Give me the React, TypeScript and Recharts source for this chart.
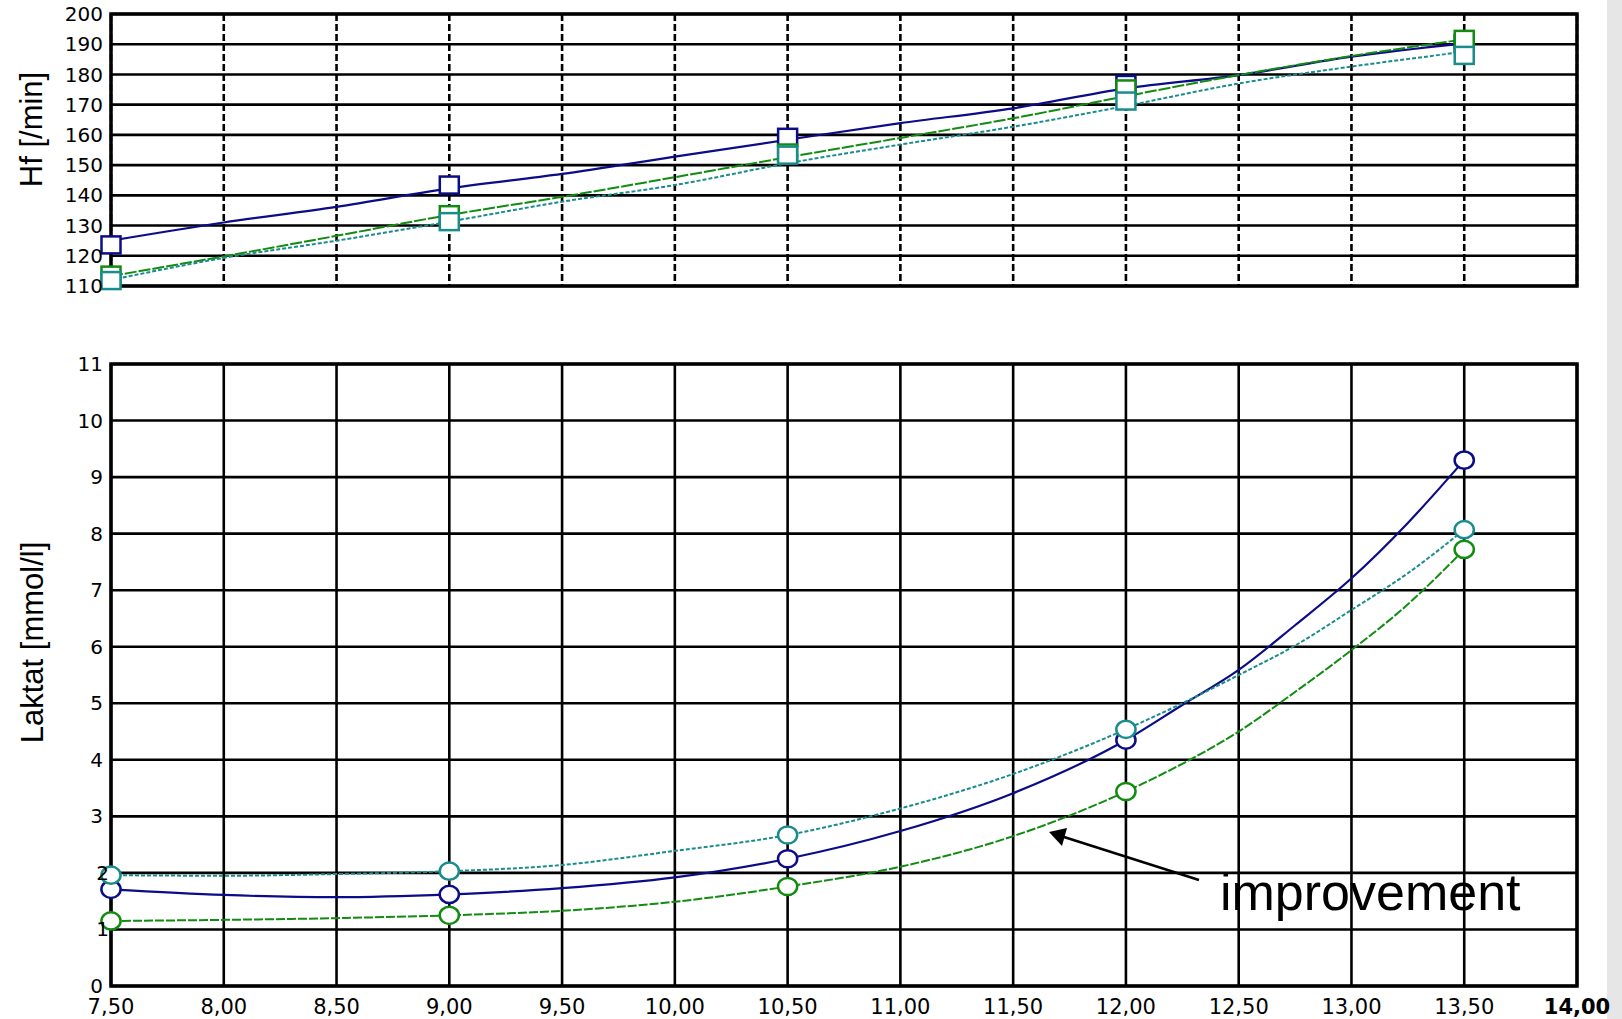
import React from "react";
import { LineChart, Line, XAxis, YAxis, CartesianGrid, ReferenceArea } from "recharts";

// running speed (km/h) axis
const speedTicks = [7.5, 8, 8.5, 9, 9.5, 10, 10.5, 11, 11.5, 12, 12.5, 13, 13.5, 14];
const hfTicks = [110, 120, 130, 140, 150, 160, 170, 180, 190, 200];
const lacTicks = [0, 1, 2, 3, 4, 5, 6, 7, 8, 9, 10, 11];

// measured stages (markers)
const stageSpeeds = [7.5, 9, 10.5, 12, 13.5];
const hfMarksBlue = [123.6, 143.4, 159.2, 176.7, 190.3];
const hfMarksGreen = [113.6, 133.6, 154.0, 175.2, 191.6];
const hfMarksTeal = [111.8, 131.3, 153.3, 171.2, 186.3];

const lacMarksBlue = [1.71, 1.62, 2.25, 4.35, 9.3];
const lacMarksGreen = [1.15, 1.25, 1.76, 3.44, 7.72];
const lacMarksTeal = [1.96, 2.03, 2.67, 4.54, 8.07];

// fitted curves
const hfCurveSpeeds = [7.5, 8, 8.5, 9, 9.5, 10, 10.5, 11, 11.5, 12, 12.5, 13, 13.5];
const hfCurveBlue = [125.0, 131.0, 136.2, 142.3, 147.1, 152.8, 158.4, 163.9, 168.8, 175.4, 179.8, 185.9, 190.3];
const hfCurveGreen = [113.3, 119.8, 126.6, 133.5, 139.5, 146.0, 152.6, 159.0, 165.5, 172.8, 179.8, 186.1, 191.6];
const hfCurveTeal = [112.0, 119.3, 125.0, 131.3, 137.9, 143.4, 150.6, 156.8, 162.7, 169.6, 177.0, 182.6, 187.5];

const lacCurveSpeeds = [7.5, 8, 8.5, 9, 9.5, 10, 10.5, 11, 11.5, 12, 12.25, 12.5, 12.75, 13, 13.25, 13.5];
const lacCurveBlue = [1.71, 1.61, 1.57, 1.62, 1.73, 1.92, 2.25, 2.74, 3.41, 4.35, 4.97, 5.59, 6.38, 7.21, 8.19, 9.3];
const lacCurveGreen = [1.15, 1.17, 1.2, 1.25, 1.33, 1.49, 1.76, 2.11, 2.65, 3.44, 3.93, 4.5, 5.2, 5.94, 6.75, 7.72];
const lacCurveTeal = [1.96, 1.95, 1.98, 2.03, 2.14, 2.39, 2.67, 3.14, 3.75, 4.54, 5.0, 5.5, 6.02, 6.65, 7.3, 8.07];

const NAVY = "#0c0c88";
const GREEN = "#118c11";
const TEAL = "#1a8c8c";
const GRID_W = 2.6;

const toPoints = (xs: number[], ys: number[]) => xs.map((x, i) => ({ x, y: ys[i] }));
const fmtSpeed = (v: number) => v.toFixed(2).replace(".", ",");

const SquareDot = (props: any) => {
    const { cx, cy, stroke, index } = props;
    if (cx == null || cy == null) return null;
    return (
        <rect key={`sq-${index}`} x={cx - 9.5} y={cy - 8.5} width={19} height={17} fill="#fff" stroke={stroke} strokeWidth={2.5} />
    );
};

const CircleDot = (props: any) => {
    const { cx, cy, stroke, index } = props;
    if (cx == null || cy == null) return null;
    return <ellipse key={`ci-${index}`} cx={cx} cy={cy} rx={9.6} ry={8.6} fill="#fff" stroke={stroke} strokeWidth={2.5} />;
};

const SpeedTick = (props: any) => {
    const { x, y, payload } = props;
    const bold = payload.value === 14;
    return (
        <text x={x} y={y} dy={20} textAnchor="middle" fontSize={21} fontFamily="DejaVu Sans" fontWeight={bold ? 700 : 400} fill="#000">
            {fmtSpeed(payload.value)}
        </text>
    );
};

const EmptyTick = () => <g />;

const LacTick = (props: any) => {
    const { x, y, payload } = props;
    // the 1 and 2 labels sit tighter against the axis in the original
    const shift = payload.value === 1 || payload.value === 2 ? 6 : 0;
    return (
        <text x={x + shift} y={y} dy={7} textAnchor="end" fontSize={20} fontFamily="DejaVu Sans" fill="#000">
            {payload.value}
        </text>
    );
};

const yTickStyle = { fontSize: 20, fill: "#000", fontFamily: "DejaVu Sans" };

function HfChart() {
    return (
        <LineChart width={1622} height={300} margin={{ top: 14, right: 45, bottom: 14, left: 41 }}>
            <CartesianGrid vertical={false} stroke="#000" strokeWidth={GRID_W} />
            <CartesianGrid horizontal={false} stroke="#000" strokeWidth={GRID_W} strokeDasharray="7 3" />
            <XAxis
                type="number"
                dataKey="x"
                domain={[7.5, 14]}
                ticks={speedTicks}
                interval={0}
                height={0}
                tick={<EmptyTick />}
                axisLine={false}
                tickLine={false}
            />
            <YAxis
                type="number"
                domain={[110, 200]}
                ticks={hfTicks}
                interval={0}
                width={70}
                axisLine={false}
                tickLine={false}
                tick={yTickStyle}
            />
            <ReferenceArea x1={7.5} x2={14} y1={110} y2={200} fill="none" fillOpacity={0} stroke="#000" strokeWidth={3.5} />
            <Line data={toPoints(hfCurveSpeeds, hfCurveBlue)} dataKey="y" type="monotone" stroke={NAVY} strokeWidth={2.2} dot={false} activeDot={false} isAnimationActive={false} />
            <Line data={toPoints(hfCurveSpeeds, hfCurveGreen)} dataKey="y" type="monotone" stroke={GREEN} strokeWidth={2} strokeDasharray="12 2" dot={false} activeDot={false} isAnimationActive={false} />
            <Line data={toPoints(hfCurveSpeeds, hfCurveTeal)} dataKey="y" type="monotone" stroke={TEAL} strokeWidth={2} strokeDasharray="4 2" dot={false} activeDot={false} isAnimationActive={false} />
            <Line data={toPoints(stageSpeeds, hfMarksBlue)} dataKey="y" stroke={NAVY} strokeWidth={0} strokeOpacity={0} dot={<SquareDot stroke={NAVY} />} activeDot={false} isAnimationActive={false} />
            <Line data={toPoints(stageSpeeds, hfMarksGreen)} dataKey="y" stroke={GREEN} strokeWidth={0} strokeOpacity={0} dot={<SquareDot stroke={GREEN} />} activeDot={false} isAnimationActive={false} />
            <Line data={toPoints(stageSpeeds, hfMarksTeal)} dataKey="y" stroke={TEAL} strokeWidth={0} strokeOpacity={0} dot={<SquareDot stroke={TEAL} />} activeDot={false} isAnimationActive={false} />
        </LineChart>
    );
}

function LactateChart() {
    return (
        <LineChart width={1622} height={689} margin={{ top: 34, right: 45, bottom: 3, left: 41 }}>
            <CartesianGrid stroke="#000" strokeWidth={GRID_W} />
            <XAxis
                type="number"
                dataKey="x"
                domain={[7.5, 14]}
                ticks={speedTicks}
                interval={0}
                height={30}
                axisLine={false}
                tickLine={false}
                tick={<SpeedTick />}
            />
            <YAxis
                type="number"
                domain={[0, 11]}
                ticks={lacTicks}
                interval={0}
                width={70}
                axisLine={false}
                tickLine={false}
                tick={<LacTick />}
            />
            <ReferenceArea x1={7.5} x2={14} y1={0} y2={11} fill="none" fillOpacity={0} stroke="#000" strokeWidth={3.5} />
            <Line data={toPoints(lacCurveSpeeds, lacCurveBlue)} dataKey="y" type="monotone" stroke={NAVY} strokeWidth={2.2} dot={false} activeDot={false} isAnimationActive={false} />
            <Line data={toPoints(lacCurveSpeeds, lacCurveGreen)} dataKey="y" type="monotone" stroke={GREEN} strokeWidth={2} strokeDasharray="9 2" dot={false} activeDot={false} isAnimationActive={false} />
            <Line data={toPoints(lacCurveSpeeds, lacCurveTeal)} dataKey="y" type="monotone" stroke={TEAL} strokeWidth={2} strokeDasharray="4 2" dot={false} activeDot={false} isAnimationActive={false} />
            <Line data={toPoints(stageSpeeds, lacMarksBlue)} dataKey="y" stroke={NAVY} strokeWidth={0} strokeOpacity={0} dot={<CircleDot stroke={NAVY} />} activeDot={false} isAnimationActive={false} />
            <Line data={toPoints(stageSpeeds, lacMarksGreen)} dataKey="y" stroke={GREEN} strokeWidth={0} strokeOpacity={0} dot={<CircleDot stroke={GREEN} />} activeDot={false} isAnimationActive={false} />
            <Line data={toPoints(stageSpeeds, lacMarksTeal)} dataKey="y" stroke={TEAL} strokeWidth={0} strokeOpacity={0} dot={<CircleDot stroke={TEAL} />} activeDot={false} isAnimationActive={false} />
        </LineChart>
    );
}

export default function App() {
    return (
        <div style={{ position: "absolute", left: 0, top: 0, width: 1622, height: 1019, background: "#fff", overflow: "hidden" }}>
            <div style={{ position: "absolute", left: 1607, top: 0, width: 15, height: 1019, background: "#e6e6e6" }} />
            <div style={{ position: "absolute", left: 0, top: 0 }}>
                <HfChart />
            </div>
            <div style={{ position: "absolute", left: 0, top: 330 }}>
                <LactateChart />
            </div>
            <svg width={1622} height={1019} style={{ position: "absolute", left: 0, top: 0, pointerEvents: "none" }}>
                <text
                    x={42}
                    y={129.5}
                    transform="rotate(-90 42 129.5)"
                    textAnchor="middle"
                    fontSize={31}
                    fontFamily="Liberation Sans, Arial, sans-serif"
                    fill="#000"
                >
                    Hf [/min]
                </text>
                <text
                    x={43}
                    y={642.5}
                    transform="rotate(-90 43 642.5)"
                    textAnchor="middle"
                    fontSize={31}
                    fontFamily="Liberation Sans, Arial, sans-serif"
                    fill="#000"
                >
                    Laktat [mmol/l]
                </text>
                <line x1={1199} y1={880} x2={1064} y2={837} stroke="#000" strokeWidth={2.5} />
                <polygon points="1049,832 1067,828 1062,846" fill="#000" />
                <text x={1220} y={910} fontSize={52} fontFamily="Liberation Sans, Arial, sans-serif" fill="#000">
                    improvement
                </text>
            </svg>
        </div>
    );
}
